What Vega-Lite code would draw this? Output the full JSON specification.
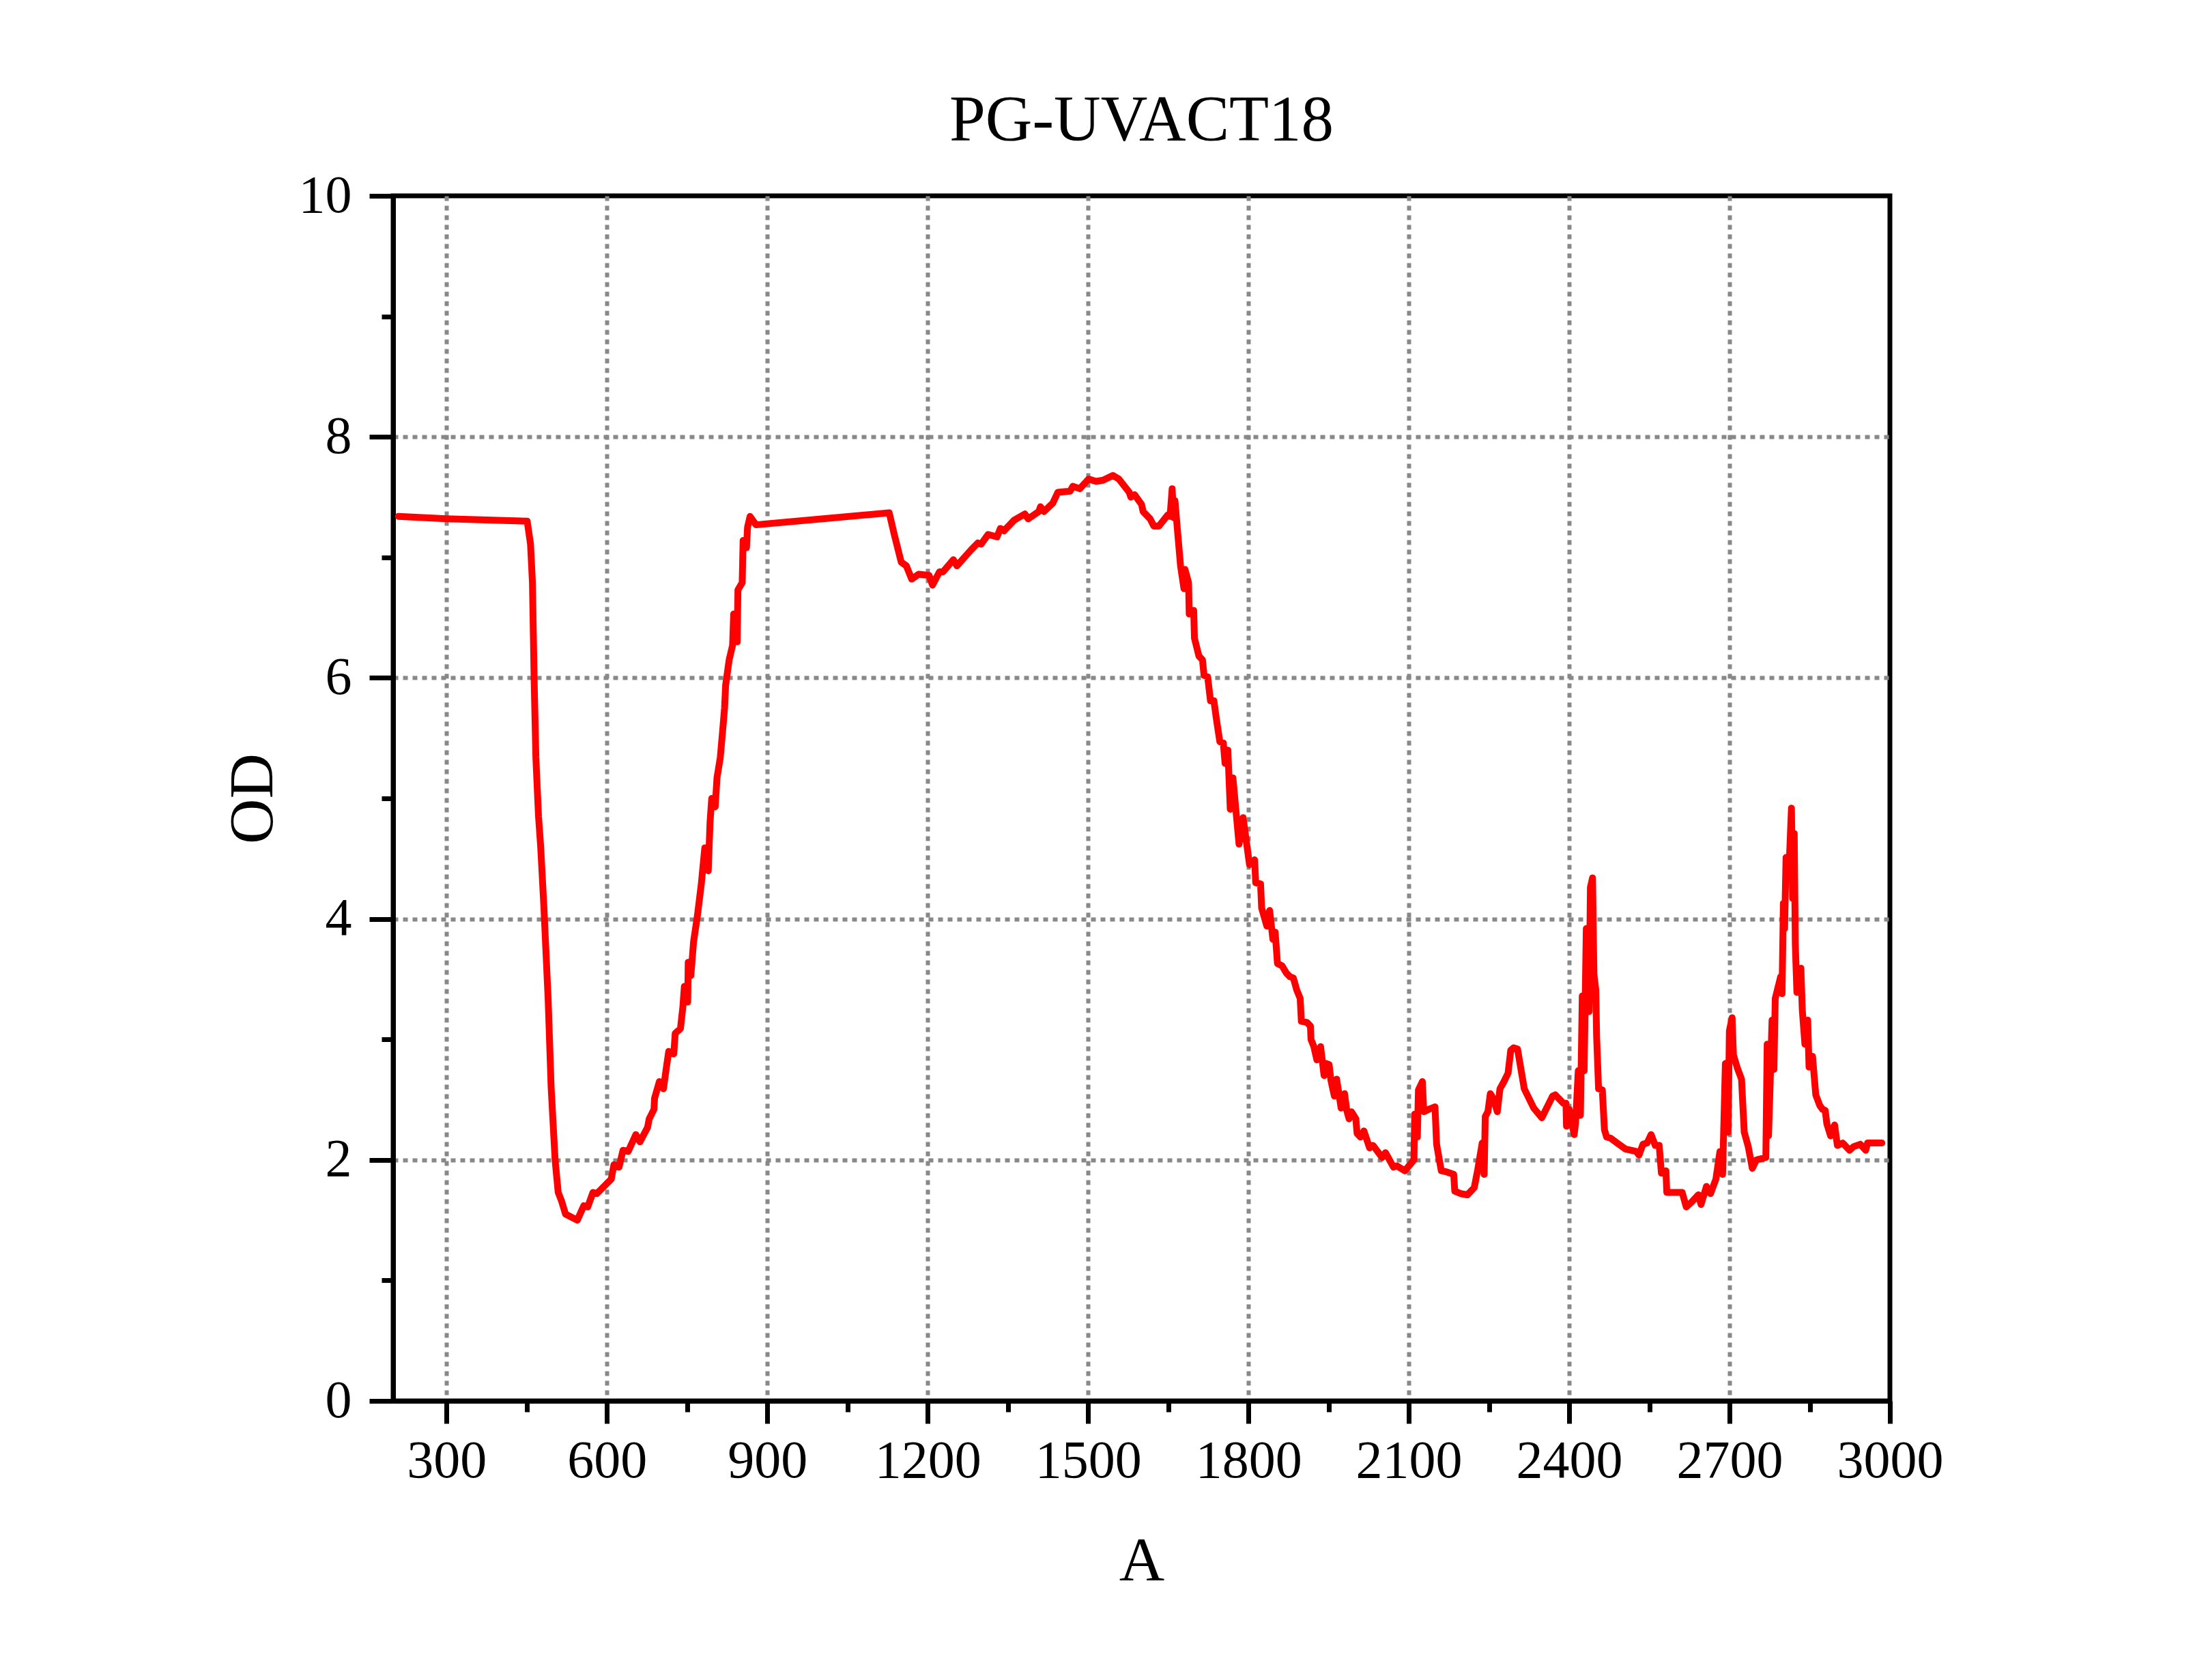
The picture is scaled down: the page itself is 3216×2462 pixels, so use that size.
{
  "$schema": "https://vega.github.io/schema/vega-lite/v6.json",
  "width": 2193,
  "height": 1766,
  "autosize": {"type": "none"},
  "padding": {"left": 576, "top": 287, "right": 447, "bottom": 409},
  "background": "white",
  "title": {"text": "PG-UVACT18", "fontSize": 95, "fontWeight": "normal", "color": "black", "anchor": "middle", "offset": 22},
  "data": {
    "values": [
      {"A": 209.8, "OD": 7.34}, {"A": 300, "OD": 7.32}, {"A": 450.8, "OD": 7.3}, {"A": 457, "OD": 7.11},
      {"A": 460.6, "OD": 6.79}, {"A": 463.8, "OD": 5.98}, {"A": 467, "OD": 5.34}, {"A": 472, "OD": 4.85},
      {"A": 476, "OD": 4.6}, {"A": 482, "OD": 4.1}, {"A": 490, "OD": 3.33}, {"A": 495.6, "OD": 2.6},
      {"A": 503, "OD": 2.0}, {"A": 508.8, "OD": 1.73}, {"A": 515, "OD": 1.66}, {"A": 522.5, "OD": 1.55},
      {"A": 544.5, "OD": 1.5}, {"A": 556.7, "OD": 1.62}, {"A": 564, "OD": 1.61}, {"A": 573.8, "OD": 1.73},
      {"A": 581, "OD": 1.72}, {"A": 608, "OD": 1.84}, {"A": 613, "OD": 1.96}, {"A": 622.6, "OD": 1.94},
      {"A": 630, "OD": 2.08}, {"A": 639.7, "OD": 2.07}, {"A": 654, "OD": 2.21}, {"A": 661.7, "OD": 2.15},
      {"A": 676, "OD": 2.27}, {"A": 679, "OD": 2.34}, {"A": 688, "OD": 2.42}, {"A": 689, "OD": 2.51},
      {"A": 698, "OD": 2.65}, {"A": 705.7, "OD": 2.59}, {"A": 710.6, "OD": 2.75}, {"A": 715.5, "OD": 2.9},
      {"A": 725, "OD": 2.88}, {"A": 727.7, "OD": 3.05}, {"A": 737.5, "OD": 3.09}, {"A": 742, "OD": 3.27},
      {"A": 744.8, "OD": 3.44}, {"A": 751, "OD": 3.31}, {"A": 752, "OD": 3.64}, {"A": 757, "OD": 3.53},
      {"A": 762, "OD": 3.81}, {"A": 769, "OD": 4.02}, {"A": 776.5, "OD": 4.29}, {"A": 783, "OD": 4.59},
      {"A": 789.5, "OD": 4.4}, {"A": 792.8, "OD": 4.8}, {"A": 796, "OD": 5.0}, {"A": 802.5, "OD": 4.93},
      {"A": 805.8, "OD": 5.17}, {"A": 812, "OD": 5.34}, {"A": 815.6, "OD": 5.52}, {"A": 820, "OD": 5.75},
      {"A": 822, "OD": 5.94}, {"A": 828.6, "OD": 6.15}, {"A": 835, "OD": 6.27}, {"A": 837, "OD": 6.53},
      {"A": 843.6, "OD": 6.3}, {"A": 845, "OD": 6.73}, {"A": 853, "OD": 6.79}, {"A": 854.7, "OD": 7.14},
      {"A": 861, "OD": 7.08}, {"A": 863, "OD": 7.25}, {"A": 867.7, "OD": 7.34}, {"A": 878.8, "OD": 7.27},
      {"A": 1128, "OD": 7.37}, {"A": 1137.4, "OD": 7.19}, {"A": 1150.5, "OD": 6.96}, {"A": 1160, "OD": 6.93},
      {"A": 1170, "OD": 6.82}, {"A": 1183, "OD": 6.86}, {"A": 1202.6, "OD": 6.85}, {"A": 1209, "OD": 6.77},
      {"A": 1222, "OD": 6.88}, {"A": 1228.6, "OD": 6.88}, {"A": 1248, "OD": 6.98}, {"A": 1254.7, "OD": 6.93},
      {"A": 1280.7, "OD": 7.06}, {"A": 1293.8, "OD": 7.12}, {"A": 1300, "OD": 7.11}, {"A": 1313, "OD": 7.19},
      {"A": 1329.6, "OD": 7.17}, {"A": 1336, "OD": 7.24}, {"A": 1342.6, "OD": 7.22}, {"A": 1362, "OD": 7.31},
      {"A": 1381.7, "OD": 7.36}, {"A": 1388, "OD": 7.32}, {"A": 1407.8, "OD": 7.38}, {"A": 1411, "OD": 7.42},
      {"A": 1417.5, "OD": 7.38}, {"A": 1434, "OD": 7.45}, {"A": 1443.6, "OD": 7.54}, {"A": 1466.4, "OD": 7.55},
      {"A": 1471.6, "OD": 7.59}, {"A": 1484.6, "OD": 7.57}, {"A": 1501, "OD": 7.65}, {"A": 1515, "OD": 7.63},
      {"A": 1528, "OD": 7.64}, {"A": 1546.5, "OD": 7.68}, {"A": 1557.6, "OD": 7.65}, {"A": 1577, "OD": 7.54},
      {"A": 1580, "OD": 7.5}, {"A": 1587, "OD": 7.52}, {"A": 1600, "OD": 7.44}, {"A": 1603, "OD": 7.38},
      {"A": 1616, "OD": 7.32}, {"A": 1623, "OD": 7.26}, {"A": 1632.5, "OD": 7.26}, {"A": 1648.8, "OD": 7.35},
      {"A": 1653.4, "OD": 7.34}, {"A": 1657.3, "OD": 7.57}, {"A": 1660, "OD": 7.33}, {"A": 1662.5, "OD": 7.47},
      {"A": 1668.3, "OD": 7.17}, {"A": 1673, "OD": 6.93}, {"A": 1679.4, "OD": 6.74}, {"A": 1681.3, "OD": 6.9},
      {"A": 1688, "OD": 6.79}, {"A": 1689.2, "OD": 6.53}, {"A": 1697.6, "OD": 6.56}, {"A": 1699, "OD": 6.33},
      {"A": 1707.4, "OD": 6.18}, {"A": 1714, "OD": 6.15}, {"A": 1717, "OD": 6.02}, {"A": 1723.7, "OD": 6.01},
      {"A": 1729, "OD": 5.81}, {"A": 1735.4, "OD": 5.81}, {"A": 1740, "OD": 5.66}, {"A": 1746.5, "OD": 5.47},
      {"A": 1753, "OD": 5.46}, {"A": 1756.3, "OD": 5.29}, {"A": 1761.5, "OD": 5.4}, {"A": 1766, "OD": 4.91},
      {"A": 1771, "OD": 5.17}, {"A": 1782.4, "OD": 4.62}, {"A": 1790, "OD": 4.84}, {"A": 1802, "OD": 4.45},
      {"A": 1811.6, "OD": 4.49}, {"A": 1813.6, "OD": 4.3}, {"A": 1822.7, "OD": 4.29}, {"A": 1824.7, "OD": 4.09},
      {"A": 1834.4, "OD": 3.94}, {"A": 1839.6, "OD": 4.07}, {"A": 1845.8, "OD": 3.83}, {"A": 1850, "OD": 3.89},
      {"A": 1854.3, "OD": 3.63}, {"A": 1863, "OD": 3.61}, {"A": 1871, "OD": 3.55}, {"A": 1877.7, "OD": 3.52},
      {"A": 1884, "OD": 3.51}, {"A": 1890.4, "OD": 3.41}, {"A": 1896.8, "OD": 3.34}, {"A": 1899, "OD": 3.15},
      {"A": 1909.6, "OD": 3.14}, {"A": 1916, "OD": 3.11}, {"A": 1917, "OD": 3.0}, {"A": 1922.4, "OD": 2.94},
      {"A": 1928, "OD": 2.83}, {"A": 1935, "OD": 2.94}, {"A": 1941.5, "OD": 2.7}, {"A": 1945, "OD": 2.8},
      {"A": 1951, "OD": 2.79}, {"A": 1954.3, "OD": 2.66}, {"A": 1960.7, "OD": 2.53}, {"A": 1965, "OD": 2.67},
      {"A": 1973.4, "OD": 2.43}, {"A": 1979.8, "OD": 2.55}, {"A": 1984, "OD": 2.41}, {"A": 1988.3, "OD": 2.34},
      {"A": 1992.6, "OD": 2.4}, {"A": 2001, "OD": 2.34}, {"A": 2003.2, "OD": 2.22}, {"A": 2009.6, "OD": 2.19},
      {"A": 2016, "OD": 2.24}, {"A": 2026.6, "OD": 2.1}, {"A": 2033, "OD": 2.12}, {"A": 2050, "OD": 2.02},
      {"A": 2056.4, "OD": 2.06}, {"A": 2071.3, "OD": 1.94}, {"A": 2077.7, "OD": 1.95}, {"A": 2092.6, "OD": 1.91},
      {"A": 2109.6, "OD": 2.0}, {"A": 2111, "OD": 2.38}, {"A": 2116, "OD": 2.19}, {"A": 2118, "OD": 2.58},
      {"A": 2125.4, "OD": 2.65}, {"A": 2128, "OD": 2.4}, {"A": 2137.3, "OD": 2.42}, {"A": 2149, "OD": 2.44},
      {"A": 2152, "OD": 2.13}, {"A": 2160.7, "OD": 1.91}, {"A": 2171, "OD": 1.9}, {"A": 2184, "OD": 1.88},
      {"A": 2186, "OD": 1.74}, {"A": 2197, "OD": 1.72}, {"A": 2209.6, "OD": 1.71}, {"A": 2222.4, "OD": 1.77},
      {"A": 2229, "OD": 1.92}, {"A": 2237.3, "OD": 2.14}, {"A": 2241, "OD": 1.88}, {"A": 2243, "OD": 2.36},
      {"A": 2248, "OD": 2.4}, {"A": 2252.5, "OD": 2.55}, {"A": 2258, "OD": 2.51}, {"A": 2265.5, "OD": 2.4},
      {"A": 2270.5, "OD": 2.59}, {"A": 2278, "OD": 2.65}, {"A": 2285.7, "OD": 2.72}, {"A": 2290.7, "OD": 2.91},
      {"A": 2296, "OD": 2.93}, {"A": 2303.4, "OD": 2.92}, {"A": 2316, "OD": 2.59}, {"A": 2333.7, "OD": 2.43},
      {"A": 2348.8, "OD": 2.35}, {"A": 2369, "OD": 2.53}, {"A": 2374, "OD": 2.54}, {"A": 2389, "OD": 2.47},
      {"A": 2394, "OD": 2.47}, {"A": 2395, "OD": 2.28}, {"A": 2400, "OD": 2.42}, {"A": 2409.4, "OD": 2.21},
      {"A": 2412, "OD": 2.31}, {"A": 2417, "OD": 2.74}, {"A": 2421, "OD": 2.37}, {"A": 2424.5, "OD": 3.36},
      {"A": 2428, "OD": 2.74}, {"A": 2432, "OD": 3.92}, {"A": 2437.2, "OD": 3.23}, {"A": 2439.7, "OD": 4.26},
      {"A": 2443.7, "OD": 4.34}, {"A": 2446.3, "OD": 3.54}, {"A": 2449.8, "OD": 3.41}, {"A": 2451.3, "OD": 3.03},
      {"A": 2455, "OD": 2.59}, {"A": 2462, "OD": 2.58}, {"A": 2466, "OD": 2.25}, {"A": 2470, "OD": 2.19},
      {"A": 2477.6, "OD": 2.18}, {"A": 2492.7, "OD": 2.13}, {"A": 2505.3, "OD": 2.09}, {"A": 2525.5, "OD": 2.07},
      {"A": 2530.6, "OD": 2.04}, {"A": 2538, "OD": 2.13}, {"A": 2545.7, "OD": 2.14}, {"A": 2553.3, "OD": 2.21},
      {"A": 2560.9, "OD": 2.12}, {"A": 2568.4, "OD": 2.12}, {"A": 2572.5, "OD": 1.89}, {"A": 2581, "OD": 1.91},
      {"A": 2582.6, "OD": 1.73}, {"A": 2611.4, "OD": 1.73}, {"A": 2619, "OD": 1.61}, {"A": 2629, "OD": 1.65},
      {"A": 2641.7, "OD": 1.71}, {"A": 2646.7, "OD": 1.63}, {"A": 2656.8, "OD": 1.78}, {"A": 2664.4, "OD": 1.72},
      {"A": 2674.5, "OD": 1.84}, {"A": 2682, "OD": 2.07}, {"A": 2687, "OD": 1.88}, {"A": 2692.2, "OD": 2.8},
      {"A": 2697.2, "OD": 2.23}, {"A": 2699.7, "OD": 3.07}, {"A": 2704.8, "OD": 3.18}, {"A": 2707.3, "OD": 2.87},
      {"A": 2714.8, "OD": 2.76}, {"A": 2722.4, "OD": 2.67}, {"A": 2727.5, "OD": 2.23}, {"A": 2735, "OD": 2.11},
      {"A": 2742.6, "OD": 1.93}, {"A": 2750.2, "OD": 2.0}, {"A": 2767.9, "OD": 2.02}, {"A": 2770.4, "OD": 2.96},
      {"A": 2772.9, "OD": 2.2}, {"A": 2775.5, "OD": 2.57}, {"A": 2779.5, "OD": 3.16}, {"A": 2783, "OD": 2.75},
      {"A": 2785.5, "OD": 3.34}, {"A": 2795.6, "OD": 3.52}, {"A": 2798.2, "OD": 3.38}, {"A": 2800.7, "OD": 4.13},
      {"A": 2803, "OD": 3.92}, {"A": 2805.7, "OD": 4.51}, {"A": 2810.8, "OD": 4.36}, {"A": 2815.8, "OD": 4.92},
      {"A": 2818, "OD": 4.17}, {"A": 2821, "OD": 4.71}, {"A": 2823, "OD": 3.79}, {"A": 2826, "OD": 3.39},
      {"A": 2833.5, "OD": 3.59}, {"A": 2836, "OD": 3.25}, {"A": 2841, "OD": 2.96}, {"A": 2846.2, "OD": 3.16},
      {"A": 2848.7, "OD": 2.77}, {"A": 2855.2, "OD": 2.86}, {"A": 2861.3, "OD": 2.54}, {"A": 2868.9, "OD": 2.45},
      {"A": 2874, "OD": 2.42}, {"A": 2879, "OD": 2.41}, {"A": 2882, "OD": 2.3}, {"A": 2889, "OD": 2.2},
      {"A": 2896.6, "OD": 2.29}, {"A": 2901.7, "OD": 2.12}, {"A": 2911.8, "OD": 2.14}, {"A": 2924.4, "OD": 2.08},
      {"A": 2932, "OD": 2.11}, {"A": 2944.6, "OD": 2.13}, {"A": 2954.7, "OD": 2.08}, {"A": 2958.2, "OD": 2.14},
      {"A": 2985, "OD": 2.14}
    ]
  },
  "layer": [
    {
      "mark": {"type": "line", "strokeOpacity": 0},
      "encoding": {
        "x": {
          "field": "A", "type": "quantitative",
          "scale": {"domain": [200, 3000], "nice": false, "zero": false},
          "axis": {
            "orient": "bottom",
            "values": [300, 600, 900, 1200, 1500, 1800, 2100, 2400, 2700],
            "ticks": false, "labels": false, "domain": false, "grid": true, "title": null
          }
        },
        "y": {
          "field": "OD", "type": "quantitative",
          "scale": {"domain": [0, 10], "nice": false, "zero": false},
          "axis": {
            "orient": "left",
            "values": [2, 4, 6, 8],
            "ticks": false, "labels": false, "domain": false, "grid": true, "title": null
          }
        }
      }
    },
    {
      "mark": {"type": "line", "color": "#FF0000", "strokeWidth": 10, "strokeJoin": "round", "strokeCap": "round", "clip": true},
      "encoding": {
        "x": {
          "field": "A", "type": "quantitative",
          "axis": {
            "orient": "bottom",
            "values": [300, 600, 900, 1200, 1500, 1800, 2100, 2400, 2700, 3000],
            "format": "d", "labelOverlap": false, "labelFlush": false,
            "tickSize": 33, "labelPadding": 16, "title": "A", "titlePadding": 62, "grid": false
          }
        },
        "y": {
          "field": "OD", "type": "quantitative",
          "axis": {
            "orient": "left",
            "values": [0, 2, 4, 6, 8, 10],
            "format": "d", "labelOverlap": false, "labelFlush": false,
            "tickSize": 35, "labelPadding": 26, "title": "OD", "titlePadding": 20, "grid": false
          }
        }
      }
    },
    {
      "mark": {"type": "line", "strokeOpacity": 0},
      "encoding": {
        "x": {
          "field": "A", "type": "quantitative",
          "axis": {
            "orient": "bottom",
            "values": [450, 750, 1050, 1350, 1650, 1950, 2250, 2550, 2850],
            "tickSize": 16, "labels": false, "domain": false, "grid": false, "title": null
          }
        },
        "y": {
          "field": "OD", "type": "quantitative",
          "axis": {
            "orient": "left",
            "values": [1, 3, 5, 7, 9],
            "tickSize": 17, "labels": false, "domain": false, "grid": false, "title": null
          }
        }
      }
    }
  ],
  "resolve": {"axis": {"x": "independent", "y": "independent"}},
  "config": {
    "font": "Liberation Serif",
    "view": {"stroke": "black", "strokeWidth": 7},
    "axis": {
      "domainColor": "black", "domainWidth": 7,
      "tickColor": "black", "tickWidth": 7,
      "labelFontSize": 78, "labelColor": "black",
      "titleFontSize": 92, "titleFontWeight": "normal", "titleColor": "black",
      "gridColor": "#888888", "gridDash": [7, 7], "gridWidth": 6, "gridOpacity": 1
    }
  }
}
